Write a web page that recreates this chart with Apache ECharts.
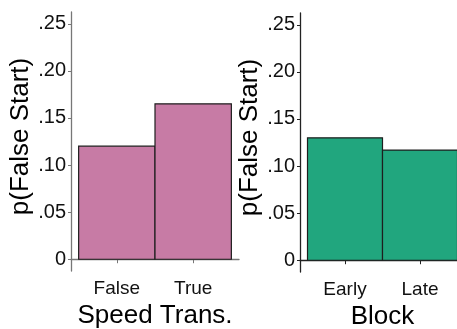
<!DOCTYPE html>
<html>
<head>
<meta charset="utf-8">
<script src="https://cdn.jsdelivr.net/npm/echarts@6/dist/echarts.min.js"></script>
<style>
  html, body { margin: 0; padding: 0; background: #fff; }
  #chart { width: 457px; height: 329px; }
</style>
</head>
<body>
<div id="chart"></div>
<script>
// Proportion of false starts by condition
const speedCategories = ['False', 'True'];
const speedValues = [0.12, 0.165];
const blockCategories = ['Early', 'Late'];
const blockValues = [0.13, 0.117];
const yTickValues = [0, 0.05, 0.10, 0.15, 0.20, 0.25];
const yTickLabels = ['0', '.05', '.10', '.15', '.20', '.25'];

const FONT = '"Liberation Sans", Arial, sans-serif';
const PINK = '#C77BA5';
const GREEN = '#21A67E';

function barItem(color) {
  return function (params, api) {
    const x = api.value(0);
    const y = api.value(1);
    const p0 = api.coord([x - 0.5, y]);
    const p1 = api.coord([x + 0.5, 0]);
    return {
      type: 'rect',
      shape: { x: p0[0], y: p0[1], width: p1[0] - p0[0], height: p1[1] - p0[1] },
      style: { fill: color, stroke: '#1e1e1e', lineWidth: 1.2 }
    };
  };
}

function xAxisFor(gridIndex, cats, title, lineColor) {
  return {
    type: 'value', gridIndex: gridIndex, min: 0.4, max: 2.6,
    name: title, nameLocation: 'middle', nameGap: 28,
    nameTextStyle: { fontFamily: FONT, fontSize: 26, color: '#000' },
    axisLine: { show: true, lineStyle: { color: lineColor, width: 1.3 } },
    axisTick: { show: true, length: 4, customValues: [1, 2], lineStyle: { color: lineColor } },
    axisLabel: {
      customValues: [1, 2], margin: 8,
      fontFamily: FONT, fontSize: 19, color: '#111',
      formatter: v => cats[Math.round(v) - 1]
    },
    splitLine: { show: false }
  };
}

function yAxisFor(gridIndex, lineColor) {
  return {
    type: 'value', gridIndex: gridIndex, min: -0.0125, max: 0.2625,
    name: 'p(False Start)', nameLocation: 'middle', nameGap: 37, nameRotate: 90,
    nameTextStyle: { fontFamily: FONT, fontSize: 26, color: '#000', padding: [0, 0, 0, 10] },
    axisLine: { show: true, lineStyle: { color: lineColor, width: 1.3 } },
    axisTick: { show: true, length: 3, customValues: yTickValues, lineStyle: { color: lineColor } },
    axisLabel: {
      customValues: yTickValues, margin: 5,
      fontFamily: FONT, fontSize: 20, color: '#111',
      formatter: v => {
        const i = yTickValues.findIndex(t => Math.abs(t - v) < 1e-9);
        return i >= 0 ? yTickLabels[i] : '';
      }
    },
    splitLine: { show: false }
  };
}

const chart = echarts.init(document.getElementById('chart'), null, { renderer: 'canvas' });
chart.setOption({
  animation: false,
  backgroundColor: '#fff',
  grid: [
    { left: 71, top: 12, width: 168, height: 259, containLabel: false, outerBoundsMode: 'none' },
    { left: 300, top: 13, width: 165, height: 259, containLabel: false, outerBoundsMode: 'none' }
  ],
  xAxis: [
    xAxisFor(0, speedCategories, 'Speed Trans.', '#777'),
    xAxisFor(1, blockCategories, 'Block', '#222')
  ],
  yAxis: [
    yAxisFor(0, '#777'),
    yAxisFor(1, '#222')
  ],
  series: [
    {
      type: 'custom', xAxisIndex: 0, yAxisIndex: 0,
      renderItem: barItem(PINK),
      data: speedValues.map((v, i) => [i + 1, v])
    },
    {
      type: 'custom', xAxisIndex: 1, yAxisIndex: 1,
      renderItem: barItem(GREEN),
      data: blockValues.map((v, i) => [i + 1, v])
    }
  ]
});
</script>
</body>
</html>
